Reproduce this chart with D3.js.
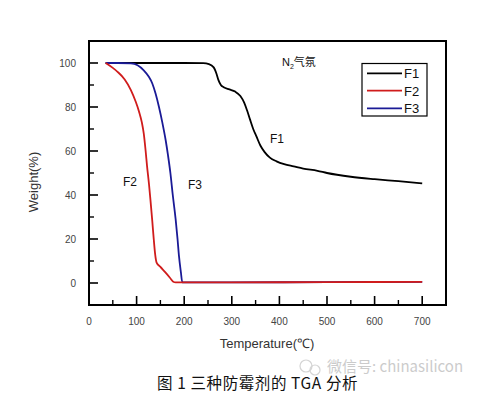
<!DOCTYPE html>
<html><head><meta charset="utf-8">
<script src="https://cdn.jsdelivr.net/npm/d3@7/dist/d3.min.js"></script>
<style>body{margin:0;background:#fff}svg{display:block}</style>
</head><body>
<svg id="c" width="479" height="393"></svg>
<script>
const seriesNames = ["F1","F2","F3"];
const seriesColors = ["#000000","#d01c1c","#1a1a96"];
const xTicks = [0,100,200,300,400,500,600,700];
const yTicks = [0,20,40,60,80,100];
// [temperature, weight%]
const f1 = [[35,100],[100,100],[200,100],[240,99.9],[252,99.5],[262,98],[268,95],[272,92.2],[277,90],[283,89],[295,88],[307,87],[318,85],[326,82],[332,78.5],[338,74.5],[345,70],[352,66.5],[360,62.5],[369,59.5],[380,57],[394,55.3],[410,54],[430,53],[450,52],[480,51],[500,50],[550,48.3],[600,47.2],[650,46.3],[700,45.3]];
const f2 = [[35,100],[50,97.8],[60,96],[75,92.5],[88,87.7],[98,82.5],[105,78],[111,73],[115,68],[119,60],[122,53],[126,45],[129,38],[133,28],[136,20],[139,13],[142,9.3],[150,7.3],[160,4.9],[170,2.4],[177,0.6],[182,0.3],[300,0.3],[500,0.4],[700,0.5]];
const f3 = [[35,100],[60,100],[88,99.8],[102,99],[115,96.7],[125,94],[133,90.7],[140,86],[147,80],[154,73],[161,65],[166,58],[171,50],[176,40],[182,29],[186,20],[189,12.3],[193,5],[196,0.3],[300,0.3],[500,0.4],[700,0.5]];
const seriesData = [f1,f2,f3];

const svg = d3.select("#c");
const L=89,R=446,T=41,B=305;
const x = d3.scaleLinear().domain([0,750]).range([L,R]);
const y = d3.scaleLinear().domain([-10,110]).range([B,T]);
const font = "Arial, 'Liberation Sans', sans-serif";

// frame
svg.append("rect").attr("x",L).attr("y",T).attr("width",R-L).attr("height",B-T)
  .attr("fill","none").attr("stroke","#000").attr("stroke-width",2);

// x axis ticks (inward)
const xMinor = d3.range(50,750,100);
svg.append("g").selectAll("line").data(xTicks.filter(d=>d>0)).join("line")
  .attr("x1",d=>x(d)).attr("x2",d=>x(d)).attr("y1",B).attr("y2",B-9)
  .attr("stroke","#000").attr("stroke-width",1.6);
svg.append("g").selectAll("line").data(xMinor).join("line")
  .attr("x1",d=>x(d)).attr("x2",d=>x(d)).attr("y1",B).attr("y2",B-5)
  .attr("stroke","#000").attr("stroke-width",1.4);
svg.append("g").selectAll("text").data(xTicks).join("text")
  .attr("x",d=>x(d)).attr("y",325).attr("text-anchor","middle")
  .attr("font-family",font).attr("font-size",10).attr("fill","#444").text(d=>d);

// y axis ticks
const yMinor = d3.range(10,110,20);
svg.append("g").selectAll("line").data(yTicks).join("line")
  .attr("x1",L).attr("x2",L+9).attr("y1",d=>y(d)).attr("y2",d=>y(d))
  .attr("stroke","#000").attr("stroke-width",1.6);
svg.append("g").selectAll("line").data(yMinor).join("line")
  .attr("x1",L).attr("x2",L+5).attr("y1",d=>y(d)).attr("y2",d=>y(d))
  .attr("stroke","#000").attr("stroke-width",1.4);
svg.append("g").selectAll("text").data(yTicks).join("text")
  .attr("x",76).attr("y",d=>y(d)+3.5).attr("text-anchor","end")
  .attr("font-family",font).attr("font-size",10).attr("fill","#444").text(d=>d);

// axis titles
svg.append("text").attr("x",267).attr("y",348).attr("text-anchor","middle")
  .attr("font-family",font).attr("font-size",13).attr("fill","#333").text("Temperature(℃)");
svg.append("text").attr("transform","translate(38,182) rotate(-90)").attr("text-anchor","middle")
  .attr("font-family",font).attr("font-size",13).attr("fill","#333").text("Weight(%)");

// curves
const line = d3.line().x(d=>x(d[0])).y(d=>y(d[1])).curve(d3.curveMonotoneX);
[0,2,1].forEach(i=>{
  svg.append("path").attr("d",line(seriesData[i])).attr("fill","none")
    .attr("stroke",seriesColors[i]).attr("stroke-width",1.8);
});

// curve labels
svg.append("text").attr("x",270).attr("y",143).attr("font-family",font).attr("font-size",12).attr("fill","#111").text("F1");
svg.append("text").attr("x",123).attr("y",186).attr("font-family",font).attr("font-size",12).attr("fill","#111").text("F2");
svg.append("text").attr("x",188).attr("y",189).attr("font-family",font).attr("font-size",12).attr("fill","#111").text("F3");

// N2 atmosphere
const n2 = svg.append("text").attr("x",282).attr("y",66).attr("font-family",font).attr("font-size",11).attr("fill","#111");
n2.append("tspan").text("N");
n2.append("tspan").attr("font-size",7).attr("dy",3).text("2");
n2.append("tspan").attr("dy",-3).attr("font-family","'Noto Sans CJK SC', sans-serif").attr("font-size",11).text("气氛");

// legend
svg.append("rect").attr("x",362).attr("y",63.5).attr("width",65).attr("height",52.5)
  .attr("fill","#fff").attr("stroke","#000").attr("stroke-width",1.2);
const ly = [73.3,90.7,108.3];
seriesNames.forEach((n,i)=>{
  svg.append("line").attr("x1",367).attr("x2",402).attr("y1",ly[i]).attr("y2",ly[i])
    .attr("stroke",seriesColors[i]).attr("stroke-width",1.8);
  svg.append("text").attr("x",404).attr("y",ly[i]+5).attr("font-family",font).attr("font-size",13).attr("fill","#111").text(n);
});

// caption
svg.append("text").attr("x",157).attr("y",389).attr("font-family","'Noto Sans CJK SC', sans-serif")
  .attr("font-size",15.5).attr("letter-spacing",0.6).attr("fill","#111").text("图 1 三种防霉剂的 TGA 分析");
// watermark
const wm = svg.append("g").attr("opacity",0.5);
wm.append("circle").attr("cx",306).attr("cy",366).attr("r",6).attr("fill","none").attr("stroke","#aaa").attr("stroke-width",1.2);
wm.append("circle").attr("cx",315).attr("cy",370).attr("r",5).attr("fill","none").attr("stroke","#aaa").attr("stroke-width",1.2);
wm.append("text").attr("x",327).attr("y",372).attr("font-family","'Noto Sans CJK SC', sans-serif")
  .attr("font-size",15).attr("fill","#999").text("微信号: chinasilicon");
</script>
</body></html>
